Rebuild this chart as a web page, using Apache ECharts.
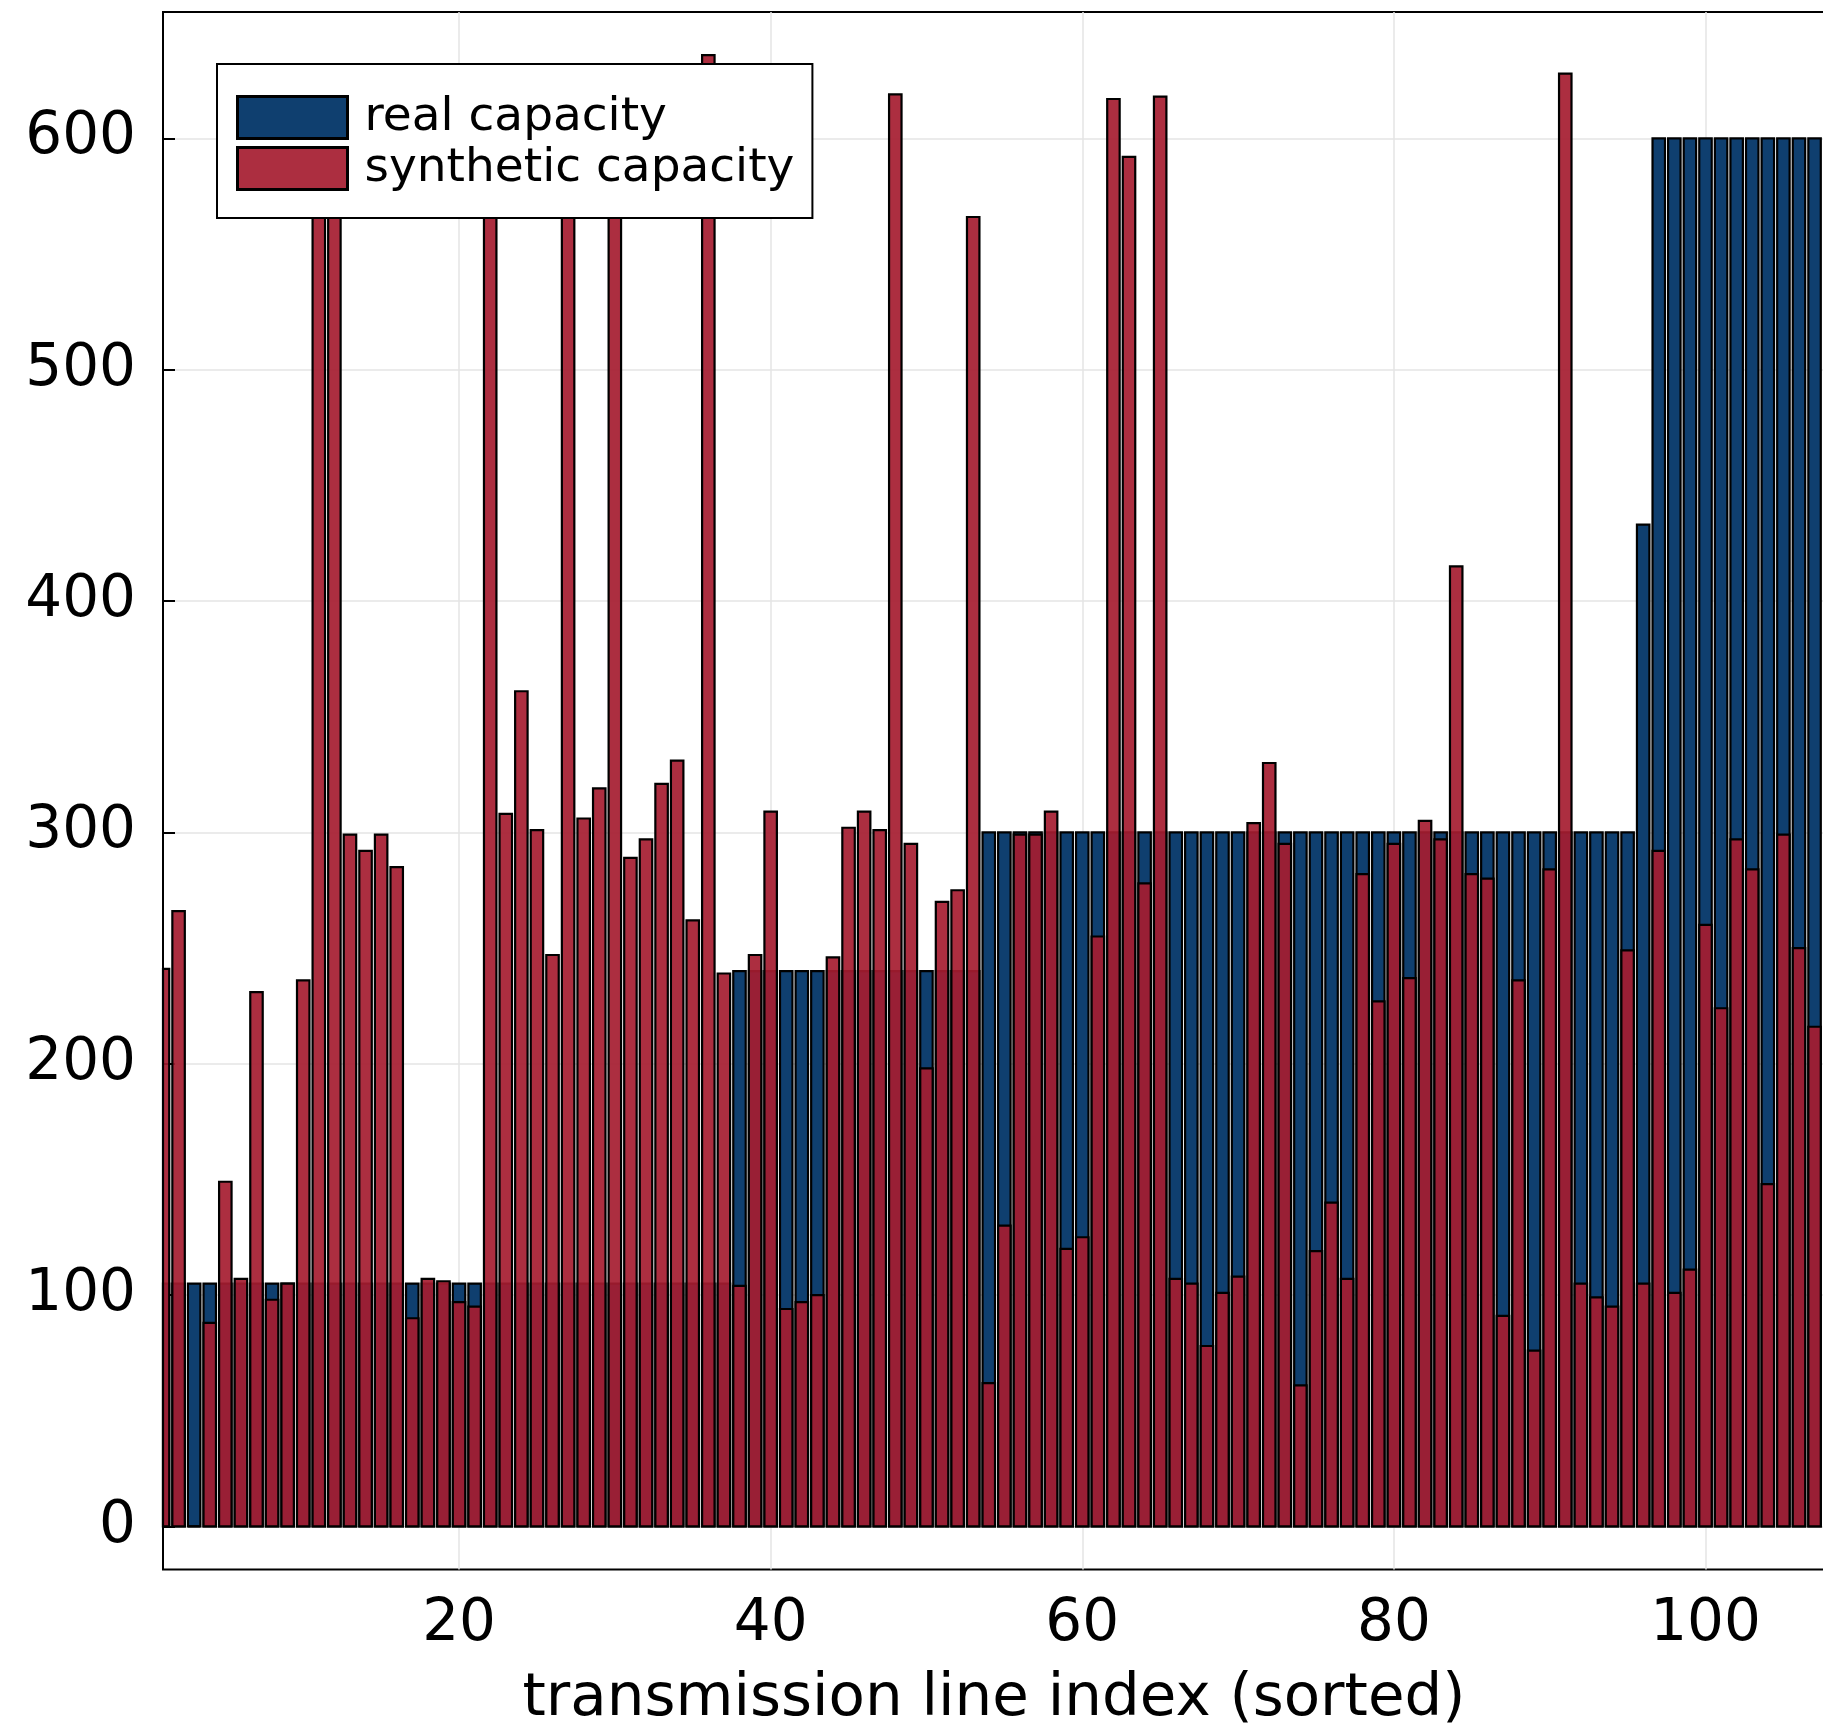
<!DOCTYPE html>
<html><head><meta charset="utf-8">
<script src="https://cdn.jsdelivr.net/npm/echarts@6/dist/echarts.min.js"></script>
<style>html,body{margin:0;padding:0;background:#fff}#c{width:1823px;height:1730px}</style>
</head><body><div id="c"></div>
<script>
const lineIndex = [1,2,3,4,5,6,7,8,9,10,11,12,13,14,15,16,17,18,19,20,
  21,22,23,24,25,26,27,28,29,30,31,32,33,34,35,36,37,38,39,40,
  41,42,43,44,45,46,47,48,49,50,51,52,53,54,55,56,57,58,59,60,
  61,62,63,64,65,66,67,68,69,70,71,72,73,74,75,76,77,78,79,80,
  81,82,83,84,85,86,87,88,89,90,91,92,93,94,95,96,97,98,99,100,
  101,102,103,104,105,106,107];
const realCapacity = [105,105,105,105,105,105,105,105,105,105,105,105,105,105,105,105,105,105,105,105,
  105,105,105,105,105,105,105,105,105,105,105,105,105,105,105,105,105,240,240,240,
  240,240,240,240,240,240,240,240,240,240,240,240,240,300,300,300,300,300,300,300,
  300,300,300,300,300,300,300,300,300,300,300,300,300,300,300,300,300,300,300,300,
  300,300,300,300,300,300,300,300,300,300,300,300,300,300,300,433,600,600,600,600,
  600,600,600,600,600,600,600];
const syntheticCapacity = [241,266,0,88,149,107,231,98,105,236,620,615,299,292,299,285,90,107,106,97,
  95,600,308,361,301,247,630,306,319,595,289,297,321,331,262,636,239,104,247,309,
  94,97,100,246,302,309,301,619,295,198,270,275,566,62,130,299,299,309,120,125,
  255,617,592,278,618,107,105,78,101,108,304,330,295,61,119,140,107,282,227,295,
  237,305,297,415,282,280,91,236,76,284,628,105,99,95,249,105,292,101,111,260,
  224,297,284,148,299,250,216];
const xTicks = [20,40,60,80,100];
const yTicks = [0,100,200,300,400,500,600];
const seriesNames = ['real capacity','synthetic capacity'];

const FONT = 'DejaVu Sans';
const BLUE = '#0f3f6f';
const RED = 'rgba(165,28,48,0.92)';
const chart = echarts.init(document.getElementById('c'), null, {renderer:'canvas'});
const gridLine = {show:true, lineStyle:{color:'#e4e4e4', width:1.5}};

function barRenderer(fill) {
  return function (params, api) {
    const x = api.value(0), y = api.value(1);
    const p0 = api.coord([x, 0]);
    const p1 = api.coord([x, y]);
    const w = api.size([0.8, 0])[0];
    const cs = params.coordSys;
    const rect = echarts.graphic.clipRectByRect(
      {x: p0[0] - w / 2, y: Math.min(p0[1], p1[1]), width: w, height: Math.abs(p0[1] - p1[1])},
      {x: cs.x, y: cs.y, width: cs.width, height: cs.height});
    if (!rect) return;
    return {type:'rect', shape:rect, style:{fill:fill, stroke:'#000', lineWidth:2.2}};
  };
}

chart.setOption({
  animation:false,
  backgroundColor:'#fff',
  grid:{left:163, right:-2, top:12, bottom:160.5, show:true, borderColor:'#000', borderWidth:2,
        backgroundColor:'transparent', containLabel:false, outerBoundsMode:'none'},
  legend:{
    left:217, top:64, orient:'vertical', icon:'rect',
    itemWidth:110, itemHeight:42, itemGap:4,
    padding:[30,18,26,19], borderColor:'#000', borderWidth:2, backgroundColor:'#fff',
    selectedMode:false,
    itemStyle:{borderColor:'#000', borderWidth:3},
    textStyle:{fontSize:47, fontFamily:FONT, color:'#000', lineHeight:42, padding:[0,0,0,12]},
    data:seriesNames
  },
  xAxis:{
    type:'value', min:1, max:107.67,
    axisLine:{show:false},
    axisTick:{show:true, inside:true, length:12, customValues:xTicks, lineStyle:{color:'#000', width:2}},
    axisLabel:{customValues:xTicks, fontSize:58, fontFamily:FONT, color:'#000', margin:26, lineHeight:58},
    splitLine:gridLine,
    name:'transmission line index (sorted)', nameLocation:'middle', nameGap:101,
    nameTextStyle:{fontSize:59.5, fontFamily:FONT, color:'#000', lineHeight:59}
  },
  yAxis:{
    type:'value', min:-18.6, max:654.6,
    axisLine:{show:false},
    axisTick:{show:true, inside:true, length:12, customValues:yTicks, lineStyle:{color:'#000', width:2}},
    axisLabel:{customValues:yTicks, fontSize:58, fontFamily:FONT, color:'#000', margin:27},
    splitLine:gridLine
  },
  series:[
    {name:seriesNames[0], type:'custom', coordinateSystem:'cartesian2d', encode:{x:0, y:1},
     renderItem:barRenderer(BLUE),
     itemStyle:{color:BLUE, borderColor:'#000', borderWidth:2},
     data:lineIndex.map((x,i)=>[x, realCapacity[i]])},
    {name:seriesNames[1], type:'custom', coordinateSystem:'cartesian2d', encode:{x:0, y:1},
     renderItem:barRenderer(RED),
     itemStyle:{color:RED, borderColor:'#000', borderWidth:2},
     data:lineIndex.map((x,i)=>[x, syntheticCapacity[i]])}
  ]
});
</script></body></html>
